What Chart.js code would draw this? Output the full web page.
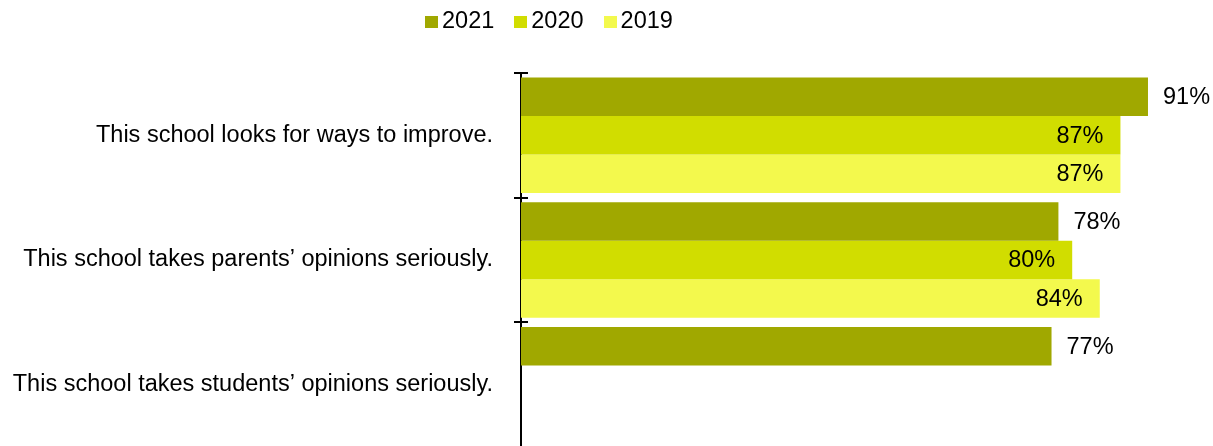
<!DOCTYPE html>
<html>
<head>
<meta charset="utf-8">
<script src="https://cdn.jsdelivr.net/npm/chart.js@4/dist/chart.umd.min.js"></script>
<style>
  body { margin: 0; overflow: hidden; background: #fff; }
  #wrap { position: relative; width: 1213px; height: 452px; }
  #surveyChart { position: absolute; left: 0; top: 0; }
  #legend {
    position: absolute; left: 425px; top: 9px; display: flex;
    font: 23.5px "Liberation Sans", Arial, sans-serif; line-height: 23.5px; color: #000;
  }
  #legend .item { display: flex; align-items: center; margin-right: 20px; }
  #legend .sw { width: 13px; height: 12px; margin-right: 4px; position: relative; top: 1px; }
</style>
</head>
<body>
<div id="wrap">
  <canvas id="surveyChart" width="1213" height="452"></canvas>
  <div id="legend"></div>
</div>
<script>
var statements = [
  "This school looks for ways to improve.",
  "This school takes parents\u2019 opinions seriously.",
  "This school takes students\u2019 opinions seriously."
];
var years = ["2021", "2020", "2019"];
var agree2021 = [91, 78, 77];
var agree2020 = [87, 80, null];
var agree2019 = [87, 84, null];
var yearColors = ["#a0a800", "#d1dd00", "#f3f94d"];

var FONT = '"Liberation Sans", Arial, sans-serif';

// percent labels: 2021 sits past the bar end, the older years inside it
var valueLabels = {
  id: 'valueLabels',
  afterDatasetsDraw: function (chart) {
    var ctx = chart.ctx;
    ctx.save();
    ctx.font = '23.5px ' + FONT;
    ctx.fillStyle = '#000';
    ctx.textBaseline = 'middle';
    chart.data.datasets.forEach(function (ds, di) {
      chart.getDatasetMeta(di).data.forEach(function (bar, i) {
        var v = ds.data[i];
        if (v == null) return;
        var outside = di === 0;
        ctx.textAlign = outside ? 'left' : 'right';
        ctx.fillText(v + '%', outside ? bar.x + 15 : bar.x - 17, bar.y + 1);
      });
    });
    ctx.restore();
  }
};

// the category ticks cross the axis, so add the part inside the plot
var crossTicks = {
  id: 'crossTicks',
  afterDraw: function (chart) {
    var y = chart.scales.y, ctx = chart.ctx;
    var step = (y.bottom - y.top) / statements.length;
    ctx.save();
    ctx.strokeStyle = '#000';
    ctx.lineWidth = 2;
    for (var i = 0; i <= statements.length; i++) {
      var py = Math.round(y.top + i * step);
      ctx.beginPath();
      ctx.moveTo(y.right, py);
      ctx.lineTo(y.right + 7, py);
      ctx.stroke();
    }
    ctx.restore();
  }
};

Chart.defaults.font.family = FONT;
Chart.defaults.font.size = 23.5;
Chart.defaults.color = '#000';

var ctx = document.getElementById('surveyChart').getContext('2d');
var surveyChart = new Chart(ctx, {
  type: 'bar',
  data: {
    labels: statements,
    datasets: [
      { label: years[0], data: agree2021, backgroundColor: yearColors[0] },
      { label: years[1], data: agree2020, backgroundColor: yearColors[1] },
      { label: years[2], data: agree2019, backgroundColor: yearColors[2] }
    ]
  },
  options: {
    indexAxis: 'y',
    responsive: false,
    animation: false,
    layout: { padding: { top: 73, bottom: 5, right: 3, left: 0 } },
    datasets: { bar: { categoryPercentage: 0.926, barPercentage: 1 } },
    plugins: {
      legend: { display: false },
      tooltip: { enabled: false }
    },
    scales: {
      x: { display: false, min: 0, max: 100 },
      y: {
        afterFit: function (scale) {
          scale.width = 521;
          // labels sit mid-band, no room needed above/below the plot
          scale.paddingTop = 0;
          scale.paddingBottom = 0;
        },
        border: { display: true, color: '#000', width: 2 },
        grid: { drawOnChartArea: false, color: '#000', lineWidth: 2, tickLength: 7 },
        ticks: { padding: 21, color: '#000', font: { size: 23.5 } }
      }
    }
  },
  plugins: [valueLabels, crossTicks]
});

// legend built from the datasets
var legendEl = document.getElementById('legend');
surveyChart.data.datasets.forEach(function (ds) {
  var item = document.createElement('span');
  item.className = 'item';
  var sw = document.createElement('span');
  sw.className = 'sw';
  sw.style.background = ds.backgroundColor;
  var txt = document.createElement('span');
  txt.textContent = ds.label;
  item.appendChild(sw);
  item.appendChild(txt);
  legendEl.appendChild(item);
});
</script>
</body>
</html>
